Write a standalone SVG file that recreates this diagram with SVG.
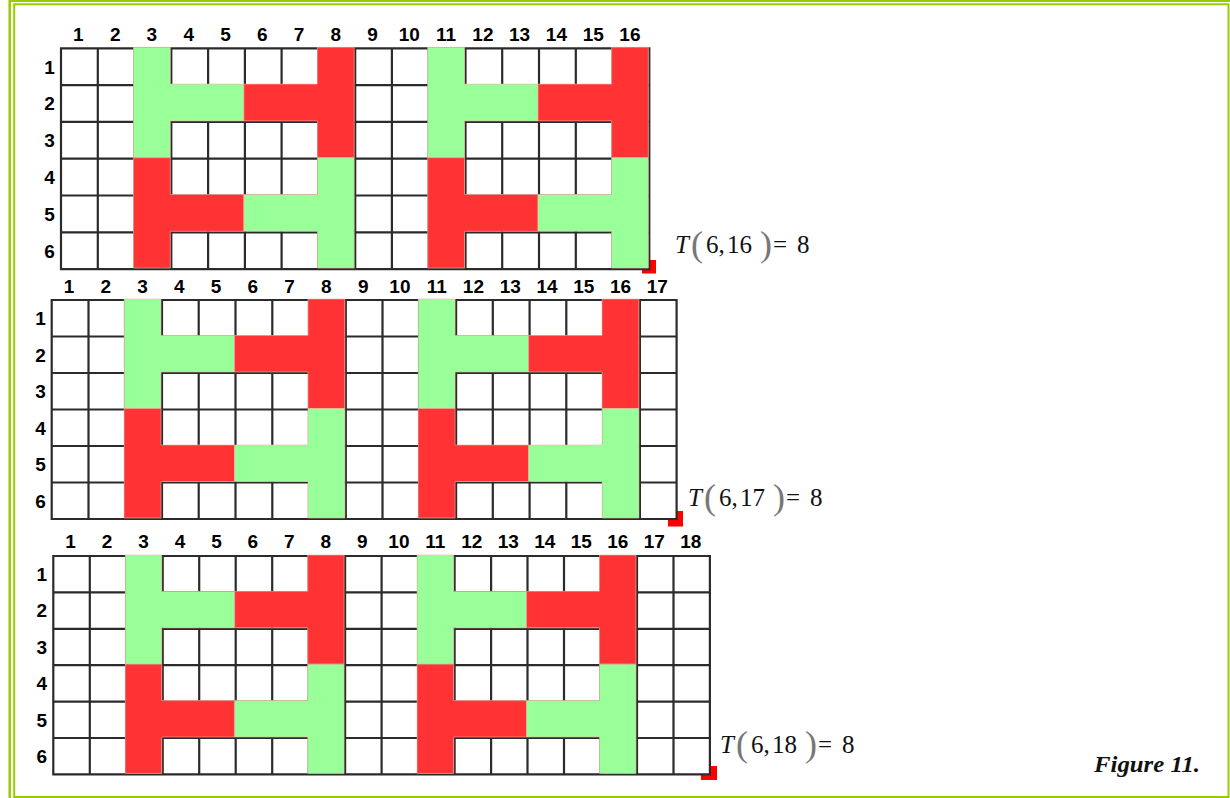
<svg xmlns="http://www.w3.org/2000/svg" width="1230" height="798" viewBox="0 0 1230 798">
<style>
.bg{fill:#fff}
.grid{fill:none;stroke:#2b2b2b;stroke-width:2.2;stroke-linecap:square}
.g{fill:#99ff99;stroke:#f0b4a8;stroke-width:0.6}
.r{fill:#ff3333;stroke:#f0b4a8;stroke-width:0.6}
.mark{fill:#ff0000}
.lbl{font-family:"Liberation Sans",Arial,sans-serif;font-weight:bold;font-size:19px;fill:#000}
.col{text-anchor:middle}
.row{text-anchor:middle}
.fm{font-family:"Liberation Serif","Times New Roman",serif;font-size:25px;fill:#111}
.it{font-style:italic}
.par{font-size:36px;fill:#777}
.fig{font-family:"Liberation Serif","Times New Roman",serif;font-weight:bold;font-style:italic;font-size:24px;fill:#111}
.frame{fill:none;stroke:#99cc00}
</style>
<rect x="0" y="0" width="1230" height="798" fill="#fff"/>
<g id="frame">
<rect class="frame" x="9.7" y="0.8" width="1240" height="820" stroke-width="2.5"/>
<rect class="frame" x="14.2" y="4.3" width="1214.3" height="792.7" stroke-width="2"/>
</g>

<g id="grid1">
<rect class="mark" x="642" y="260" width="14" height="13.5"/>
<rect class="bg" x="61" y="48.3" width="588.3" height="220.8"/>
<path class="grid" d="M61 48.3V269.1M97.8 48.3V269.1M134.5 48.3V269.1M171.3 48.3V269.1M208.1 48.3V269.1M244.9 48.3V269.1M281.6 48.3V269.1M318.4 48.3V269.1M355.2 48.3V269.1M391.9 48.3V269.1M428.7 48.3V269.1M465.5 48.3V269.1M502.2 48.3V269.1M539 48.3V269.1M575.8 48.3V269.1M612.6 48.3V269.1M649.3 48.3V269.1M61 48.3H649.3M61 85.1H649.3M61 121.9H649.3M61 158.7H649.3M61 195.5H649.3M61 232.3H649.3M61 269.1H649.3"/>
<polygon class="g" points="133.5,47.3 170.3,47.3 170.3,84.1 243.9,84.1 243.9,120.9 170.3,120.9 170.3,157.7 133.5,157.7"/>
<polygon class="r" points="317.4,47.3 354.2,47.3 354.2,157.7 317.4,157.7 317.4,120.9 243.9,120.9 243.9,84.1 317.4,84.1"/>
<polygon class="r" points="133.5,157.7 170.3,157.7 170.3,194.5 243.9,194.5 243.9,231.3 170.3,231.3 170.3,268.1 133.5,268.1"/>
<polygon class="g" points="317.4,157.7 354.2,157.7 354.2,268.1 317.4,268.1 317.4,231.3 243.9,231.3 243.9,194.5 317.4,194.5"/>
<polygon class="g" points="427.7,47.3 464.5,47.3 464.5,84.1 538,84.1 538,120.9 464.5,120.9 464.5,157.7 427.7,157.7"/>
<polygon class="r" points="611.6,47.3 648.3,47.3 648.3,157.7 611.6,157.7 611.6,120.9 538,120.9 538,84.1 611.6,84.1"/>
<polygon class="r" points="427.7,157.7 464.5,157.7 464.5,194.5 538,194.5 538,231.3 464.5,231.3 464.5,268.1 427.7,268.1"/>
<polygon class="g" points="611.6,157.7 648.3,157.7 648.3,268.1 611.6,268.1 611.6,231.3 538,231.3 538,194.5 611.6,194.5"/>
<g class="lbl col">
<text x="78.4" y="40.5">1</text><text x="115.2" y="40.5">2</text><text x="151.9" y="40.5">3</text><text x="188.7" y="40.5">4</text><text x="225.5" y="40.5">5</text><text x="262.2" y="40.5">6</text><text x="299" y="40.5">7</text><text x="335.8" y="40.5">8</text><text x="372.5" y="40.5">9</text><text x="409.3" y="40.5">10</text><text x="446.1" y="40.5">11</text><text x="482.9" y="40.5">12</text><text x="519.6" y="40.5">13</text><text x="556.4" y="40.5">14</text><text x="593.2" y="40.5">15</text><text x="629.9" y="40.5">16</text>
</g>
<g class="lbl row">
<text x="49.5" y="73.5">1</text><text x="49.5" y="110.3">2</text><text x="49.5" y="147.1">3</text><text x="49.5" y="183.9">4</text><text x="49.5" y="220.7">5</text><text x="49.5" y="257.5">6</text>
</g>
<text class="fm" y="253"><tspan x="675" class="it">T</tspan><tspan x="691" y="256" class="par">(</tspan><tspan x="706" y="253">6,</tspan><tspan x="727">16</tspan><tspan x="760" y="256" class="par">)</tspan><tspan x="773" y="253">=</tspan><tspan x="797">8</tspan></text>
</g>

<g id="grid2">
<rect class="mark" x="668" y="511" width="15" height="15.5"/>
<rect class="bg" x="51.7" y="300" width="624.9" height="219"/>
<path class="grid" d="M51.7 300V519M88.5 300V519M125.2 300V519M162 300V519M198.7 300V519M235.5 300V519M272.3 300V519M309 300V519M345.8 300V519M382.5 300V519M419.3 300V519M456.1 300V519M492.8 300V519M529.6 300V519M566.3 300V519M603.1 300V519M639.9 300V519M676.6 300V519M51.7 300H676.6M51.7 336.5H676.6M51.7 373H676.6M51.7 409.5H676.6M51.7 446H676.6M51.7 482.5H676.6M51.7 519H676.6"/>
<polygon class="g" points="124.2,299 161,299 161,335.5 234.5,335.5 234.5,372 161,372 161,408.5 124.2,408.5"/>
<polygon class="r" points="308,299 344.8,299 344.8,408.5 308,408.5 308,372 234.5,372 234.5,335.5 308,335.5"/>
<polygon class="r" points="124.2,408.5 161,408.5 161,445 234.5,445 234.5,481.5 161,481.5 161,518 124.2,518"/>
<polygon class="g" points="308,408.5 344.8,408.5 344.8,518 308,518 308,481.5 234.5,481.5 234.5,445 308,445"/>
<polygon class="g" points="418.3,299 455.1,299 455.1,335.5 528.6,335.5 528.6,372 455.1,372 455.1,408.5 418.3,408.5"/>
<polygon class="r" points="602.1,299 638.9,299 638.9,408.5 602.1,408.5 602.1,372 528.6,372 528.6,335.5 602.1,335.5"/>
<polygon class="r" points="418.3,408.5 455.1,408.5 455.1,445 528.6,445 528.6,481.5 455.1,481.5 455.1,518 418.3,518"/>
<polygon class="g" points="602.1,408.5 638.9,408.5 638.9,518 602.1,518 602.1,481.5 528.6,481.5 528.6,445 602.1,445"/>
<g class="lbl col">
<text x="69.1" y="293">1</text><text x="105.8" y="293">2</text><text x="142.6" y="293">3</text><text x="179.4" y="293">4</text><text x="216.1" y="293">5</text><text x="252.9" y="293">6</text><text x="289.6" y="293">7</text><text x="326.4" y="293">8</text><text x="363.2" y="293">9</text><text x="399.9" y="293">10</text><text x="436.7" y="293">11</text><text x="473.4" y="293">12</text><text x="510.2" y="293">13</text><text x="547" y="293">14</text><text x="583.7" y="293">15</text><text x="620.5" y="293">16</text><text x="657.2" y="293">17</text>
</g>
<g class="lbl row">
<text x="40.5" y="325.1">1</text><text x="40.5" y="361.6">2</text><text x="40.5" y="398.1">3</text><text x="40.5" y="434.6">4</text><text x="40.5" y="471.1">5</text><text x="40.5" y="507.6">6</text>
</g>
<text class="fm" y="506"><tspan x="688" class="it">T</tspan><tspan x="704" y="509" class="par">(</tspan><tspan x="719" y="506">6,</tspan><tspan x="740">17</tspan><tspan x="773" y="509" class="par">)</tspan><tspan x="786" y="506">=</tspan><tspan x="810">8</tspan></text>
</g>

<g id="grid3">
<rect class="mark" x="701" y="766" width="16" height="14"/>
<rect class="bg" x="53.3" y="556" width="656.6" height="218.4"/>
<path class="grid" d="M53.3 556V774.4M89.8 556V774.4M126.3 556V774.4M162.7 556V774.4M199.2 556V774.4M235.7 556V774.4M272.2 556V774.4M308.7 556V774.4M345.1 556V774.4M381.6 556V774.4M418.1 556V774.4M454.6 556V774.4M491.1 556V774.4M527.5 556V774.4M564 556V774.4M600.5 556V774.4M637 556V774.4M673.5 556V774.4M709.9 556V774.4M53.3 556H709.9M53.3 592.4H709.9M53.3 628.8H709.9M53.3 665.2H709.9M53.3 701.6H709.9M53.3 738H709.9M53.3 774.4H709.9"/>
<polygon class="g" points="125.3,555 161.7,555 161.7,591.4 234.7,591.4 234.7,627.8 161.7,627.8 161.7,664.2 125.3,664.2"/>
<polygon class="r" points="307.7,555 344.1,555 344.1,664.2 307.7,664.2 307.7,627.8 234.7,627.8 234.7,591.4 307.7,591.4"/>
<polygon class="r" points="125.3,664.2 161.7,664.2 161.7,700.6 234.7,700.6 234.7,737 161.7,737 161.7,773.4 125.3,773.4"/>
<polygon class="g" points="307.7,664.2 344.1,664.2 344.1,773.4 307.7,773.4 307.7,737 234.7,737 234.7,700.6 307.7,700.6"/>
<polygon class="g" points="417.1,555 453.6,555 453.6,591.4 526.5,591.4 526.5,627.8 453.6,627.8 453.6,664.2 417.1,664.2"/>
<polygon class="r" points="599.5,555 636,555 636,664.2 599.5,664.2 599.5,627.8 526.5,627.8 526.5,591.4 599.5,591.4"/>
<polygon class="r" points="417.1,664.2 453.6,664.2 453.6,700.6 526.5,700.6 526.5,737 453.6,737 453.6,773.4 417.1,773.4"/>
<polygon class="g" points="599.5,664.2 636,664.2 636,773.4 599.5,773.4 599.5,737 526.5,737 526.5,700.6 599.5,700.6"/>
<g class="lbl col">
<text x="70.5" y="548">1</text><text x="107" y="548">2</text><text x="143.5" y="548">3</text><text x="180" y="548">4</text><text x="216.5" y="548">5</text><text x="252.9" y="548">6</text><text x="289.4" y="548">7</text><text x="325.9" y="548">8</text><text x="362.4" y="548">9</text><text x="398.9" y="548">10</text><text x="435.3" y="548">11</text><text x="471.8" y="548">12</text><text x="508.3" y="548">13</text><text x="544.8" y="548">14</text><text x="581.3" y="548">15</text><text x="617.7" y="548">16</text><text x="654.2" y="548">17</text><text x="690.7" y="548">18</text>
</g>
<g class="lbl row">
<text x="41.7" y="581">1</text><text x="41.7" y="617.4">2</text><text x="41.7" y="653.8">3</text><text x="41.7" y="690.2">4</text><text x="41.7" y="726.6">5</text><text x="41.7" y="763">6</text>
</g>
<text class="fm" y="753"><tspan x="720" class="it">T</tspan><tspan x="736" y="756" class="par">(</tspan><tspan x="751" y="753">6,</tspan><tspan x="772">18</tspan><tspan x="805" y="756" class="par">)</tspan><tspan x="818" y="753">=</tspan><tspan x="842">8</tspan></text>
</g>

<text id="caption" class="fig" x="1094" y="772" textLength="106" lengthAdjust="spacingAndGlyphs">Figure 11.</text>
</svg>
